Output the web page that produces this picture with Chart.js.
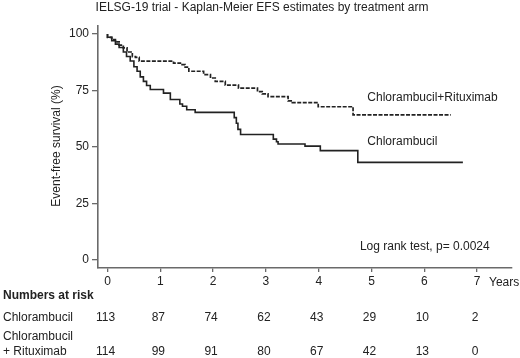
<!DOCTYPE html>
<html>
<head>
<meta charset="utf-8">
<script src="https://cdn.jsdelivr.net/npm/chart.js@4.4.0/dist/chart.umd.min.js"></script>
<style>
  body { margin: 0; background: #fff; }
  #wrap { width: 520px; height: 358px; }
</style>
</head>
<body>
<div id="wrap"><canvas id="km" width="520" height="358"></canvas></div>
<script>
// Kaplan-Meier EFS estimates (time in years, EFS in %)
const chlorTime = [0, 0.08, 0.15, 0.22, 0.3, 0.36, 0.43, 0.5, 0.56, 0.62, 0.68, 0.74, 0.81, 1.06, 1.19, 1.37, 1.42, 1.5, 1.66, 2.40, 2.44, 2.47, 2.52, 3.14, 3.2, 3.23, 3.74, 4.03, 4.74, 5.78, 6.73];
const chlorEfs  = [100, 98.5, 97, 95.5, 94, 92, 90, 88, 85.5, 83.5, 81, 79, 77.2, 75.4, 73.8, 71, 69, 68, 66.5, 65.3, 63, 60.5, 57.8, 55.5, 53.5, 52.3, 51.3, 50.4, 48.4, 43.2, 43.2];

const rituxTime = [0, 0.08, 0.15, 0.22, 0.3, 0.37, 0.47, 0.53, 0.6, 1.25, 1.38, 1.47, 1.54, 1.82, 1.95, 2.04, 2.23, 2.48, 2.84, 2.93, 3.04, 3.42, 3.50, 3.99, 4.65, 5.58, 6.50];
const rituxEfs  = [100, 98.5, 97.5, 96.5, 95, 93.8, 92, 90, 89.6, 88, 87.1, 86.4, 85.3, 83.5, 82, 80.5, 79, 77.4, 76, 74.5, 73.5, 72.3, 70.4, 69.6, 67.8, 64.2, 64.2];

const yearTicks = [0, 1, 2, 3, 4, 5, 6, 7];
const efsTicks = [0, 25, 50, 75, 100];

const riskChlor = [113, 87, 74, 62, 43, 29, 10, 2];
const riskRitux = [114, 99, 91, 80, 67, 42, 13, 0];

const FONT = '"Liberation Sans", Arial, sans-serif';
const INK = '#222';
const AXIS = '#6a6a6a';

const toPoints = (t, s) => t.map((x, i) => ({ x: x, y: s[i] }));

const textPlugin = {
  id: 'kmText',
  afterDraw(chart) {
    const ctx = chart.ctx;
    const xs = chart.scales.x;
    const ys = chart.scales.y;
    ctx.save();
    ctx.fillStyle = INK;
    ctx.textBaseline = 'alphabetic';

    ctx.font = '12px ' + FONT;
    ctx.textAlign = 'center';
    ctx.fillText('IELSG-19 trial - Kaplan-Meier EFS estimates by treatment arm', 262, 11);

    // curve labels
    ctx.textAlign = 'left';
    ctx.fillText('Chlorambucil+Rituximab', xs.getPixelForValue(4.92), ys.getPixelForValue(70.4));
    ctx.fillText('Chlorambucil', xs.getPixelForValue(4.92), ys.getPixelForValue(50.9));
    ctx.fillText('Log rank test, p= 0.0024', xs.getPixelForValue(4.78), ys.getPixelForValue(4.5));

    ctx.fillText('Years', 489, 286);

    // y axis title
    ctx.save();
    ctx.translate(57, 146);
    ctx.rotate(-Math.PI / 2);
    ctx.textAlign = 'center';
    ctx.textBaseline = 'middle';
    ctx.fillText('Event-free survival (%)', 0, 0);
    ctx.restore();

    // numbers at risk
    ctx.font = 'bold 12px ' + FONT;
    ctx.textAlign = 'left';
    ctx.fillText('Numbers at risk', 3, 299);
    ctx.font = '12px ' + FONT;
    ctx.fillText('Chlorambucil', 3, 321);
    ctx.fillText('Chlorambucil', 3, 340);
    ctx.fillText('+ Rituximab', 3, 355);
    ctx.textAlign = 'center';
    yearTicks.forEach((yr, i) => {
      const px = xs.getPixelForValue(yr) - 2;
      ctx.fillText(String(riskChlor[i]), px, 321);
      ctx.fillText(String(riskRitux[i]), px, 355);
    });
    ctx.restore();
  }
};

new Chart(document.getElementById('km'), {
  type: 'line',
  data: {
    datasets: [
      {
        label: 'Chlorambucil',
        data: toPoints(chlorTime, chlorEfs),
        stepped: 'after',
        borderColor: INK,
        borderWidth: 1.6,
        pointRadius: 0,
        fill: false
      },
      {
        label: 'Chlorambucil+Rituximab',
        data: toPoints(rituxTime, rituxEfs),
        stepped: 'after',
        borderColor: INK,
        borderWidth: 1.7,
        borderDash: [4, 1.5],
        pointRadius: 0,
        fill: false
      }
    ]
  },
  options: {
    responsive: false,
    animation: false,
    layout: { padding: { left: 0, top: 26, right: 8, bottom: 0 } },
    plugins: {
      legend: { display: false },
      title: { display: false },
      tooltip: { enabled: false }
    },
    scales: {
      x: {
        type: 'linear',
        min: -0.18,
        max: 7.66,
        afterBuildTicks: (s) => { s.ticks = yearTicks.map(v => ({ value: v })); },
        afterFit: (s) => { s.height = 90; },
        grid: { drawOnChartArea: false, drawTicks: true, tickLength: 4, color: AXIS, lineWidth: 1.3 },
        border: { color: AXIS, width: 1.6 },
        ticks: { font: { size: 12, family: FONT }, color: INK, padding: 2, maxRotation: 0, autoSkip: false }
      },
      y: {
        type: 'linear',
        min: -3.5,
        max: 103.5,
        afterBuildTicks: (s) => { s.ticks = efsTicks.map(v => ({ value: v })); },
        afterFit: (s) => { s.width = 98; },
        grid: { drawOnChartArea: false, drawTicks: true, tickLength: 6, color: AXIS, lineWidth: 1.3 },
        border: { color: AXIS, width: 1.6 },
        ticks: { font: { size: 12, family: FONT }, color: INK, padding: 3 }
      }
    }
  },
  plugins: [textPlugin]
});
</script>
</body>
</html>
